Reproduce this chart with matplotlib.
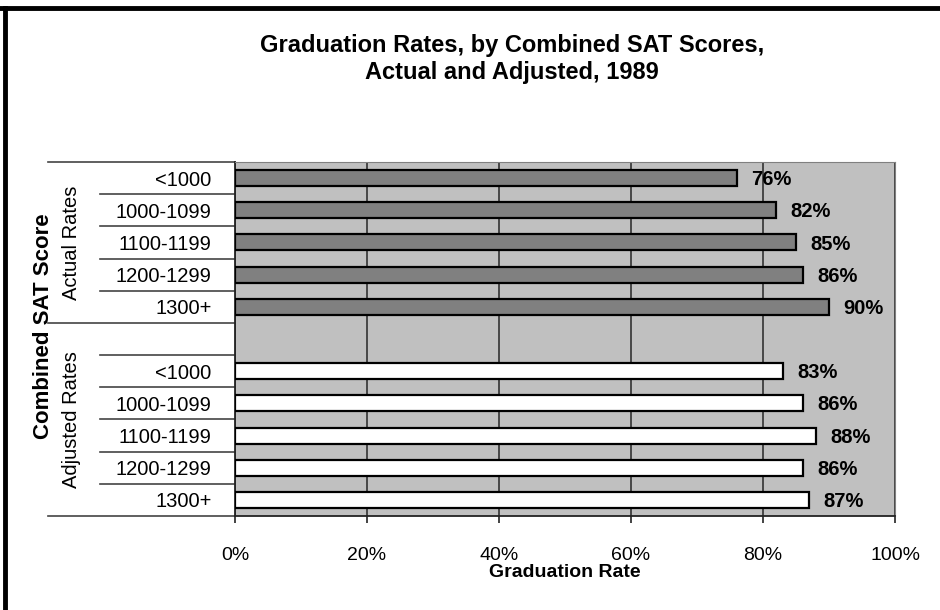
import numpy as np
import matplotlib.pyplot as plt
from matplotlib.lines import Line2D

plt.rcParams['font.family'] = ['Liberation Sans', 'DejaVu Sans']

# data
categories = ['<1000', '1000-1099', '1100-1199', '1200-1299', '1300+']
actual = [76, 82, 85, 86, 90]
adjusted = [83, 86, 88, 86, 87]
groups = ['Actual Rates', 'Adjusted Rates']
xticks = [0, 20, 40, 60, 80, 100]

fig = plt.figure(figsize=(9.4, 6.1), dpi=100)
ax = fig.add_axes([235/940, 1-516/610, 660/940, 354/610])
ax.set_facecolor('#c0c0c0')

n = len(categories)
pos_act = np.arange(n)
pos_adj = np.arange(n) + n + 1

ax.barh(pos_act, actual, height=0.5, color='#808080', edgecolor='black', linewidth=1.6, zorder=3)
ax.barh(pos_adj, adjusted, height=0.5, color='white', edgecolor='black', linewidth=1.6, zorder=3)

for p, v in zip(list(pos_act) + list(pos_adj), actual + adjusted):
    ax.text(v + 2.2, p + 0.05, f'{v}%', va='center', ha='left', fontsize=14.5, fontweight='bold', zorder=4)

ax.set_xlim(0, 100)
ax.set_ylim(2*n + 0.5, -0.5)
ax.set_xticks(xticks)
ax.set_xticklabels([f'{t}%' for t in xticks], fontsize=14)
ax.tick_params(axis='x', length=5, width=1.2, pad=17, color='#222222')
ax.xaxis.grid(True, color='#333333', linewidth=1.2, zorder=1)
ax.set_axisbelow(True)

ax.set_yticks(list(pos_act) + list(pos_adj))
ax.set_yticklabels(categories + categories, fontsize=14.5)
ax.tick_params(axis='y', length=0, pad=17)

for s in ['top', 'right']:
    ax.spines[s].set_color('#808080')
for s in ['left', 'bottom']:
    ax.spines[s].set_color('#222222')
    ax.spines[s].set_linewidth(1.3)

ax.set_xlabel('Graduation Rate', fontsize=14, fontweight='bold', labelpad=0)

# separator lines left of the plot
trans = ax.get_yaxis_transform()
for b in np.arange(-0.5, 2*n + 1, 1.0):
    x0 = -0.283 if b in (-0.5, n - 0.5, 2*n + 0.5) else -0.205
    ax.add_line(Line2D([x0, 0], [b, b], transform=trans, color='#444444', linewidth=1.2, clip_on=False))

ax.text(-0.247, (n - 1) / 2, groups[0], transform=trans, rotation=90, ha='center', va='center', fontsize=14.5)
ax.text(-0.247, n - 0.5 + (n + 1) / 2, groups[1], transform=trans, rotation=90, ha='center', va='center', fontsize=14.5)
ax.text(-0.290, 4.6, 'Combined SAT Score', transform=trans, rotation=90, ha='center', va='center',
        fontsize=16, fontweight='bold')

fig.text(512/940, 1-59/610, 'Graduation Rates, by Combined SAT Scores,\nActual and Adjusted, 1989',
         ha='center', va='center', fontsize=17, fontweight='bold', linespacing=1.2)

# frame lines top / left
fig.add_artist(Line2D([0, 1], [1-8/610, 1-8/610], color='black', linewidth=3.5))
fig.add_artist(Line2D([5/940, 5/940], [0, 1-8/610], color='black', linewidth=3.5))

fig.savefig('out.png', dpi=100)
